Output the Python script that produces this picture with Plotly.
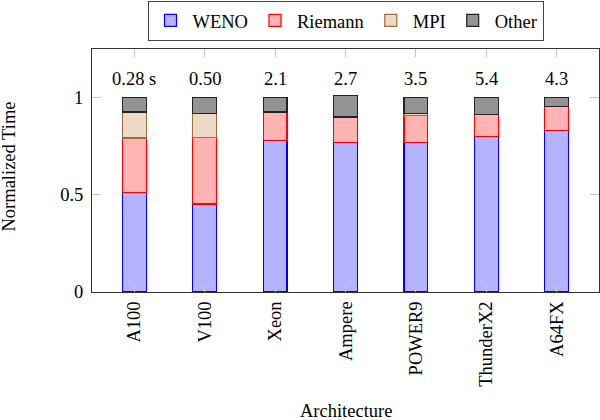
import plotly.graph_objects as go

archs = ["A100", "V100", "Xeon", "Ampere", "POWER9", "ThunderX2", "A64FX"]
weno = [0.51, 0.453, 0.778, 0.769, 0.769, 0.800, 0.829]
riemann = [0.282, 0.343, 0.148, 0.131, 0.139, 0.112, 0.124]
mpi = [0.134, 0.121, 0.0, 0.0, 0.012, 0.0, 0.0]
other = [0.074, 0.083, 0.074, 0.112, 0.080, 0.088, 0.047]
times = ["0.28 s", "0.50", "2.1", "2.7", "3.5", "5.4", "4.3"]

FONT = "Liberation Serif"
FS = 18.5

series = [
    ("WENO", weno, "#b3b3ff", "#0000ff"),
    ("Riemann", riemann, "#ffb3b3", "#ff0000"),
    ("MPI", mpi, "#ecd9c6", "#9c6b3c"),
    ("Other", other, "#939393", "#222222"),
]

fig = go.Figure()
for name, vals, fill, edge in series:
    fig.add_trace(go.Bar(
        x=archs, y=vals, name=name, width=0.34,
        marker=dict(color=fill, line=dict(color=edge, width=1.2)),
    ))

for a, t in zip(archs, times):
    fig.add_annotation(x=a, y=1.0, xref="x", yref="y", text=t, showarrow=False,
                       yanchor="bottom", yshift=7, font=dict(family=FONT, size=FS, color="black"))

fig.add_annotation(x=0.5, y=0, xref="paper", yref="paper", text="Architecture", showarrow=False,
                   yanchor="middle", yshift=-119, font=dict(family=FONT, size=FS, color="black"))
fig.add_annotation(x=0, y=0.5, xref="paper", yref="paper", text="Normalized Time", showarrow=False,
                   textangle=-90, xanchor="center", xshift=-84, yshift=4,
                   font=dict(family=FONT, size=FS, color="black"))

fig.update_layout(
    barmode="stack",
    width=600, height=420,
    margin=dict(l=92, r=1, t=49, b=128, autoexpand=False),
    paper_bgcolor="white", plot_bgcolor="white",
    font=dict(family=FONT, size=FS, color="black"),
    legend=dict(orientation="h", x=0.5, xanchor="center", yref="container", y=0.998, yanchor="top",
                bordercolor="#444444", borderwidth=1, font=dict(family=FONT, size=FS),
                traceorder="normal", itemwidth=34),
    showlegend=True,
)
fig.update_xaxes(type="category", range=[-0.6, 6.6], showline=True, linecolor="#333333", linewidth=1,
                 mirror="ticks", ticks="inside", ticklen=8, tickcolor="#c4c4c4", tickangle=-90,
                 ticklabelstandoff=1, showgrid=False, automargin=False)
fig.update_yaxes(range=[0, 1.25], tickvals=[0, 0.5, 1], ticktext=["0", "0.5", "1"], showline=True,
                 linecolor="#333333", linewidth=1, mirror="ticks", ticks="inside", ticklen=9,
                 tickcolor="#c4c4c4", showgrid=False, zeroline=False, automargin=False,
                 ticklabelstandoff=4)

fig.write_html("out.html", config={"displayModeBar": False},
               post_script="document.body.style.margin='0';document.body.style.overflow='hidden';")
